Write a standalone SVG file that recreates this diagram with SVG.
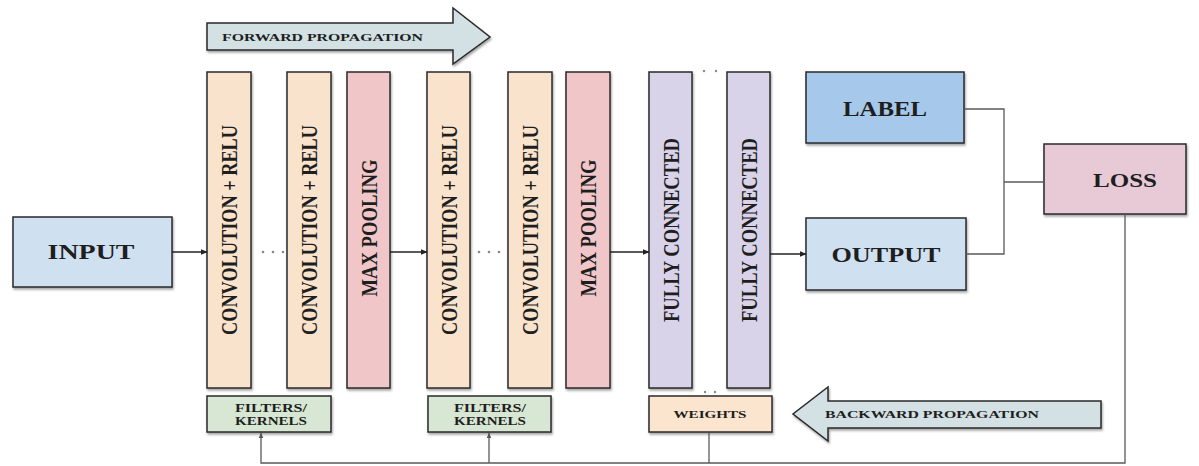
<svg xmlns="http://www.w3.org/2000/svg" width="1199" height="466" viewBox="0 0 1199 466">
<defs>
<filter id="sh" x="-10%" y="-10%" width="130%" height="130%">
<feDropShadow dx="1" dy="2" stdDeviation="1.2" flood-color="#000" flood-opacity="0.35"/>
</filter>
<marker id="ah" viewBox="0 0 10 10" refX="9" refY="5" markerWidth="7" markerHeight="7" orient="auto" markerUnits="userSpaceOnUse">
<path d="M0,1 L10,5 L0,9 Z" fill="#222"/>
</marker>
<marker id="ahg" viewBox="0 0 10 10" refX="9" refY="5" markerWidth="6" markerHeight="6" orient="auto" markerUnits="userSpaceOnUse">
<path d="M0,1 L10,5 L0,9 Z" fill="#555"/>
</marker>
</defs>
<style>
.box{stroke:#2a2a2a;stroke-width:1.5;filter:url(#sh)}
.conv{fill:#f9e3cc}
.pool{fill:#f0c6c8}
.fc{fill:#d9d3e9}
.t{font-family:"Liberation Serif","Times New Roman",serif;font-weight:bold;fill:#1e1e1e}
.vt{font-size:23px;text-anchor:middle}
.ht{text-anchor:middle}
.sm{font-size:11px}
.big{font-size:21px}
.ln{fill:none;stroke:#222;stroke-width:1.3}
.gl{fill:none;stroke:#5a5a5a;stroke-width:1.3}
.dot{fill:#888}
.bigarrow{fill:#d3e1e4;stroke:#2a2a2a;stroke-width:1.5;filter:url(#sh)}
</style>
<rect width="1199" height="466" fill="#fff"/>

<g id="forward-propagation">
<polygon class="bigarrow" points="207,23 453,23 453,8 490,37 453,64 453,50 207,50"/>
<text class="t sm" x="222" y="41" textLength="201" lengthAdjust="spacingAndGlyphs">FORWARD PROPAGATION</text>
</g>

<g id="input">
<rect class="box" x="13" y="217" width="159" height="70" fill="#cfe0f1"/>
<text class="t big ht" x="91" y="259" textLength="87" lengthAdjust="spacingAndGlyphs">INPUT</text>
</g>

<g id="conv1">
<rect class="box conv" x="207" y="72" width="44" height="316"/>
<text class="t vt" transform="translate(237,230) rotate(-90)" textLength="210" lengthAdjust="spacingAndGlyphs">CONVOLUTION + RELU</text>
</g>
<g id="conv2">
<rect class="box conv" x="287" y="72" width="44" height="316"/>
<text class="t vt" transform="translate(317,230) rotate(-90)" textLength="210" lengthAdjust="spacingAndGlyphs">CONVOLUTION + RELU</text>
</g>
<g id="maxpool1">
<rect class="box pool" x="347" y="72" width="43" height="316"/>
<text class="t vt" transform="translate(376.5,228) rotate(-90)" textLength="137" lengthAdjust="spacingAndGlyphs">MAX POOLING</text>
</g>
<g id="conv3">
<rect class="box conv" x="427" y="72" width="43" height="316"/>
<text class="t vt" transform="translate(456.5,230) rotate(-90)" textLength="210" lengthAdjust="spacingAndGlyphs">CONVOLUTION + RELU</text>
</g>
<g id="conv4">
<rect class="box conv" x="508" y="72" width="44" height="316"/>
<text class="t vt" transform="translate(538,230) rotate(-90)" textLength="210" lengthAdjust="spacingAndGlyphs">CONVOLUTION + RELU</text>
</g>
<g id="maxpool2">
<rect class="box pool" x="566" y="72" width="44" height="316"/>
<text class="t vt" transform="translate(596,228) rotate(-90)" textLength="137" lengthAdjust="spacingAndGlyphs">MAX POOLING</text>
</g>
<g id="fc1">
<rect class="box fc" x="649" y="72" width="43" height="316"/>
<text class="t vt" transform="translate(678.5,230) rotate(-90)" textLength="184" lengthAdjust="spacingAndGlyphs">FULLY CONNECTED</text>
</g>
<g id="fc2">
<rect class="box fc" x="727" y="72" width="43" height="316"/>
<text class="t vt" transform="translate(756.5,230) rotate(-90)" textLength="184" lengthAdjust="spacingAndGlyphs">FULLY CONNECTED</text>
</g>

<g id="ellipses">
<circle class="dot" cx="263" cy="252" r="1.3"/><circle class="dot" cx="273" cy="252" r="1.3"/><circle class="dot" cx="283" cy="252" r="1.3"/>
<circle class="dot" cx="479" cy="252" r="1.3"/><circle class="dot" cx="489" cy="252" r="1.3"/><circle class="dot" cx="499" cy="252" r="1.3"/>
<circle class="dot" cx="704" cy="71" r="1.2"/><circle class="dot" cx="716" cy="71" r="1.2"/>
<circle class="dot" cx="705" cy="392" r="1.2"/><circle class="dot" cx="715" cy="392" r="1.2"/>
</g>

<g id="label">
<rect class="box" x="806" y="72" width="158" height="71" fill="#a6c8ea"/>
<text class="t ht" style="font-size:20px" x="885" y="116" textLength="84" lengthAdjust="spacingAndGlyphs">LABEL</text>
</g>
<g id="output">
<rect class="box" x="806" y="218" width="160" height="72" fill="#cfe0f1"/>
<text class="t ht" style="font-size:20px" x="886" y="262" textLength="109" lengthAdjust="spacingAndGlyphs">OUTPUT</text>
</g>
<g id="loss">
<rect class="box" x="1044" y="144" width="142" height="70" fill="#e8cad7"/>
<text class="t ht" style="font-size:19px" x="1125" y="187" textLength="64" lengthAdjust="spacingAndGlyphs">LOSS</text>
</g>

<g id="filters1">
<rect class="box" x="207" y="396" width="124" height="36" fill="#d7e7d3"/>
<text class="t ht" style="font-size:12px" x="271" y="412" textLength="72" lengthAdjust="spacingAndGlyphs">FILTERS/</text>
<text class="t ht" style="font-size:12px" x="271" y="425" textLength="72" lengthAdjust="spacingAndGlyphs">KERNELS</text>
</g>
<g id="filters2">
<rect class="box" x="428" y="396" width="123" height="36" fill="#d7e7d3"/>
<text class="t ht" style="font-size:12px" x="490" y="412" textLength="72" lengthAdjust="spacingAndGlyphs">FILTERS/</text>
<text class="t ht" style="font-size:12px" x="490" y="425" textLength="72" lengthAdjust="spacingAndGlyphs">KERNELS</text>
</g>
<g id="weights">
<rect class="box" x="649" y="396" width="123" height="36" fill="#fce5cf"/>
<text class="t ht sm" x="710" y="418" textLength="73" lengthAdjust="spacingAndGlyphs">WEIGHTS</text>
</g>

<g id="backward-propagation">
<polygon class="bigarrow" points="1101,401 828,401 828,387 793,414 828,441 828,428 1101,428"/>
<text class="t sm" x="825" y="418" textLength="214" lengthAdjust="spacingAndGlyphs">BACKWARD PROPAGATION</text>
</g>

<g id="connectors">
<line class="ln" x1="172" y1="252" x2="207" y2="252" marker-end="url(#ah)"/>
<line class="ln" x1="390" y1="252" x2="427" y2="252" marker-end="url(#ah)"/>
<line class="ln" x1="610" y1="252" x2="649" y2="252" marker-end="url(#ah)"/>
<line class="ln" x1="770" y1="254" x2="806" y2="254" marker-end="url(#ah)"/>
<polyline class="gl" points="964,109 1004,109 1004,254 966,254"/>
<line class="gl" x1="1004" y1="182" x2="1044" y2="182"/>
<polyline class="gl" points="1125,214 1125,463 261,463 261,433" marker-end="url(#ahg)"/>
<line class="gl" x1="489" y1="463" x2="489" y2="433" marker-end="url(#ahg)"/>
<line class="gl" x1="709" y1="463" x2="709" y2="433"/>
</g>
</svg>
